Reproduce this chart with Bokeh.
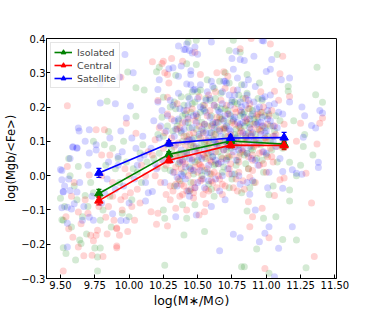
from bokeh.plotting import figure
from bokeh.models import (ColumnDataSource, Whisker, TeeHead, FixedTicker, Legend, LegendItem, Range1d)
from bokeh.embed import file_html
from bokeh.resources import INLINE

# ---------------- data ----------------
bin_x = [9.78, 10.29, 10.74, 11.13]
iso_y = [-0.052, 0.062, 0.101, 0.092]
iso_err = [0.012, 0.008, 0.008, 0.012]
cen_y = [-0.073, 0.045, 0.089, 0.088]
cen_err = [0.012, 0.008, 0.008, 0.012]
sat_y = [0.008, 0.094, 0.110, 0.111]
sat_err = [0.013, 0.008, 0.008, 0.015]

x_ticks = [9.5, 9.75, 10.0, 10.25, 10.5, 10.75, 11.0, 11.25, 11.5]
x_tick_labels = ["9.50", "9.75", "10.00", "10.25", "10.50", "10.75", "11.00", "11.25", "11.50"]
y_ticks = [-0.3, -0.2, -0.1, 0.0, 0.1, 0.2, 0.3, 0.4]
y_tick_labels = ["\u22120.3", "\u22120.2", "\u22120.1", "0.0", "0.1", "0.2", "0.3", "0.4"]

iso_pts = [
    (9.63,0.027),(9.50,-0.066),(9.68,-0.058),(9.52,-0.13),(9.79,-0.13),(9.64,-0.188),(9.65,-0.198),(9.54,-0.227),
    (9.61,-0.246),(9.77,-0.237),(9.79,-0.211),(9.77,-0.278),(9.75,-0.211),(9.51,-0.129),(9.52,-0.21),(9.74,0.10),
    (9.82,0.09),(9.88,0.08),(9.85,0.129),(9.84,0.217),(9.99,0.302),(10.05,0.256),(10.05,0.173),(10.08,0.066),
    (9.57,0.0),(9.60,-0.03),(9.70,-0.09),(9.86,-0.06),(9.93,-0.02),(9.98,0.04),(10.02,-0.07),(10.06,0.01),
    (10.10,0.09),(9.95,-0.11),(9.90,0.02),(9.66,-0.12),(9.72,-0.02),
    (9.53,-0.09),(9.58,-0.15),(9.62,-0.07),(9.69,-0.17),(9.74,-0.05),(9.81,-0.10),(9.87,-0.15),(9.92,0.05),
    (9.96,0.10),(10.03,0.02),(10.09,-0.02),(10.13,0.04),(10.00,-0.12),(9.83,0.03),(9.56,0.05),
    (10.43,0.39),(10.73,0.365),(10.81,0.36),(10.22,0.316),(10.42,0.326),(10.34,0.293),(10.49,0.324),(10.43,0.23),
    (10.25,0.229),(10.49,0.395),(10.76,0.395),(11.08,0.353),(10.86,0.295),(11.37,0.316),(11.16,0.26),(10.95,0.27),
    (11.16,0.246),(11.36,0.236),(11.41,0.214),(11.27,0.085),(11.34,0.06),(10.20,0.303),(10.11,0.25),
    (11.25,0.03),(11.17,0.039),(11.17,-0.042),(11.17,-0.074),(11.02,-0.056),(10.86,-0.103),(10.98,-0.124),
    (11.07,-0.12),(11.12,-0.186),(11.22,-0.188),(10.93,-0.214),(10.84,-0.266),(11.02,-0.285),(11.29,-0.269),
    (10.26,-0.124),(10.25,-0.10),(10.42,-0.124),(10.39,-0.085),(10.48,-0.085),(10.40,-0.173),(10.55,-0.163),
    (10.26,-0.261),(10.82,-0.266),(11.28,0.12),(11.20,0.16),(11.22,0.0),
    (10.18,0.05),(10.21,0.12),(10.24,0.17),(10.26,0.02),(10.28,0.09),(10.30,0.20),(10.32,0.13),(10.33,-0.03),
    (10.35,0.06),(10.36,0.16),(10.38,0.23),(10.39,0.10),(10.40,0.01),(10.41,0.18),(10.42,0.07),(10.44,0.14),
    (10.45,-0.02),(10.46,0.21),(10.47,0.11),(10.48,0.04),(10.50,0.17),(10.51,0.08),(10.52,0.25),(10.53,0.00),
    (10.54,0.13),(10.55,0.19),(10.56,0.05),(10.58,0.10),(10.59,0.22),(10.60,-0.04),(10.61,0.15),(10.62,0.03),
    (10.63,0.12),(10.64,0.20),(10.65,0.07),(10.66,0.17),(10.67,0.24),(10.68,0.01),(10.69,0.10),(10.70,0.14),
    (10.71,0.05),(10.72,0.19),(10.73,0.27),(10.74,0.08),(10.75,-0.01),(10.76,0.16),(10.77,0.12),(10.78,0.03),
    (10.79,0.21),(10.80,0.09),(10.81,0.14),(10.82,-0.05),(10.83,0.18),(10.84,0.06),(10.85,0.11),(10.86,0.24),
    (10.87,0.02),(10.88,0.15),(10.89,0.08),(10.90,0.19),(10.91,-0.02),(10.92,0.12),(10.93,0.05),(10.94,0.17),
    (10.96,0.09),(10.97,0.22),(10.98,0.01),(10.99,0.14),(11.00,0.06),(11.02,0.18),(11.03,0.10),(11.05,-0.03),
    (11.06,0.13),(11.08,0.04),(11.10,0.16),(11.12,0.08),(10.57,0.28),(10.45,0.09),(10.62,-0.06),(10.70,0.30),
    (10.36,0.035),(10.38,0.125),(10.41,0.055),(10.43,0.155),(10.44,0.025),(10.47,0.085),(10.49,0.135),(10.50,0.045),
    (10.52,0.185),(10.53,0.095),(10.55,0.015),(10.57,0.145),(10.58,0.065),(10.60,0.175),(10.61,0.105),(10.63,0.035),
    (10.64,0.135),(10.66,0.085),(10.67,0.195),(10.69,0.025),(10.70,0.115),(10.72,0.155),(10.73,0.055),(10.75,0.215),
    (10.76,0.095),(10.78,0.135),(10.79,0.045),(10.81,0.175),(10.82,0.105),(10.84,0.145),(10.85,0.035),(10.87,0.125),
    (10.88,0.195),(10.90,0.075),(10.91,0.165),(10.93,0.105),(10.95,0.135),(10.97,0.045),(10.99,0.175),(11.01,0.115),
    (10.46,0.245),(10.62,0.255),(10.80,0.235),(10.40,0.205),(10.56,0.225),(10.71,0.075),(10.86,0.065),(10.53,0.155),
    (10.68,0.165),(10.31,0.075),(10.28,0.145),(10.34,0.195),(10.22,0.065),(10.25,0.115),(11.04,0.075),(11.07,0.175),
    (10.94,0.225),(10.77,0.005),(10.59,0.005),(10.47,0.005),
    (10.33,0.215),(10.35,0.145),(10.37,0.065),(10.39,0.175),(10.42,0.115),(10.45,0.185),(10.48,0.215),(10.51,0.115),
    (10.54,0.205),(10.57,0.085),(10.60,0.125),(10.63,0.225),(10.65,0.155),(10.67,0.055),(10.70,0.195),(10.72,0.095),
    (10.74,0.175),(10.77,0.215),(10.79,0.115),(10.81,0.065),(10.83,0.225),(10.86,0.155),(10.89,0.175),(10.92,0.155),
    (10.96,0.185),(10.98,0.105),(11.03,0.145),(10.44,-0.045),(10.58,-0.025),(10.73,-0.035),(10.88,-0.035),
    (10.30,0.015),(10.50,0.245),(10.66,0.275),(10.82,0.265),(10.37,-0.015),(10.55,0.095),(10.69,0.135),
    (10.84,0.185),(10.61,0.055),
]

cen_pts = [
    (9.55,0.204),(9.55,0.027),(9.71,0.002),(9.63,-0.106),(9.56,-0.155),(9.83,-0.121),(9.89,-0.13),(9.77,-0.159),
    (9.76,-0.174),(9.72,-0.174),(9.91,-0.155),(9.93,-0.174),(9.63,-0.208),(9.67,-0.234),(9.73,-0.232),(9.52,-0.278),
    (9.91,-0.205),(9.81,-0.236),(9.91,-0.21),(9.99,-0.163),(9.91,-0.153),(9.94,0.287),(9.98,0.153),(9.76,0.134),
    (9.82,0.134),(10.05,0.124),(9.80,0.06),(9.60,-0.02),(9.68,-0.07),(9.85,-0.09),(9.97,-0.06),(10.02,-0.09),
    (10.06,-0.04),(10.00,0.0),(10.09,0.03),(9.88,-0.02),(9.94,-0.07),(9.58,-0.06),(9.80,0.0),(9.97,0.02),
    (9.54,-0.12),(9.59,-0.18),(9.65,-0.14),(9.70,-0.11),(9.78,-0.09),(9.84,-0.17),(9.88,-0.06),(9.95,-0.10),
    (10.01,-0.05),(10.04,-0.13),(10.08,-0.08),(10.12,0.00),(10.14,0.07),(9.86,0.06),(9.74,-0.19),
    (10.17,0.332),(10.25,0.334),(10.31,0.342),(10.26,0.30),(10.39,0.334),(10.52,0.295),(10.29,0.27),(10.21,0.219),
    (10.28,0.229),(10.64,0.30),(10.69,0.303),(10.72,0.29),(11.03,0.384),(11.12,0.348),(11.10,0.297),(11.06,0.246),
    (11.17,0.231),(10.89,0.40),(10.24,0.327),(10.28,0.295),(10.81,0.37),(10.48,0.36),
    (11.41,0.168),(11.39,0.153),(11.25,0.153),(11.37,0.092),(11.29,0.007),(11.13,-0.007),(11.10,-0.012),
    (11.06,-0.058),(10.87,-0.076),(10.97,-0.095),(10.90,-0.12),(10.88,-0.149),(11.33,-0.08),(11.02,-0.181),
    (11.35,-0.236),(10.99,-0.271),(11.22,0.10),
    (10.16,-0.105),(10.21,-0.11),(10.20,-0.142),(10.28,-0.147),(10.34,-0.095),(10.42,-0.10),(10.51,-0.115),
    (10.55,-0.105),(10.56,-0.081),(10.37,-0.06),(10.30,-0.07),(10.47,-0.05),
    (10.17,0.06),(10.19,0.00),(10.22,0.14),(10.23,-0.02),(10.25,0.08),(10.27,0.03),(10.28,0.18),(10.30,-0.03),
    (10.31,0.11),(10.33,0.01),(10.34,0.06),(10.35,0.21),(10.36,-0.01),(10.37,0.14),(10.39,0.04),(10.40,-0.03),
    (10.41,0.09),(10.42,0.19),(10.43,0.00),(10.44,0.12),(10.46,0.05),(10.47,-0.02),(10.48,0.16),(10.49,0.08),
    (10.50,0.01),(10.51,0.23),(10.52,0.11),(10.53,-0.01),(10.54,0.06),(10.55,0.15),(10.57,0.02),(10.58,0.09),
    (10.59,0.19),(10.60,0.04),(10.61,-0.02),(10.62,0.12),(10.63,0.07),(10.64,0.17),(10.65,0.00),(10.66,0.10),
    (10.67,0.22),(10.68,0.05),(10.69,0.14),(10.70,-0.03),(10.71,0.09),(10.72,0.18),(10.73,0.02),(10.74,0.12),
    (10.75,0.06),(10.76,0.25),(10.77,0.15),(10.78,-0.01),(10.79,0.10),(10.80,0.04),(10.81,0.19),(10.82,0.13),
    (10.83,0.07),(10.84,-0.04),(10.85,0.16),(10.86,0.10),(10.87,0.02),(10.88,0.21),(10.89,0.12),(10.90,0.06),
    (10.91,0.15),(10.92,-0.02),(10.93,0.09),(10.94,0.18),(10.95,0.03),(10.96,0.13),(10.97,0.07),(10.98,0.20),
    (10.99,0.11),(11.00,0.01),(11.01,0.15),(11.03,0.08),(11.04,0.19),(11.05,0.04),(11.07,0.12),(11.09,0.22),
    (11.11,0.09),(11.13,0.15),(10.45,-0.04),(10.56,-0.04),(10.38,0.02),(10.62,0.01),(10.29,0.05),(10.52,0.03),
    (10.66,-0.01),(10.80,0.01),
    (10.32,-0.045),(10.34,0.025),(10.36,0.095),(10.38,-0.025),(10.39,0.155),(10.41,0.035),(10.42,-0.045),
    (10.44,0.075),(10.45,0.015),(10.47,0.125),(10.48,-0.035),(10.50,0.065),(10.51,0.145),(10.53,0.025),
    (10.54,-0.055),(10.56,0.105),(10.57,0.175),(10.59,0.045),(10.60,-0.015),(10.62,0.085),(10.63,0.155),
    (10.65,0.035),(10.66,0.135),(10.68,-0.025),(10.69,0.075),(10.71,0.205),(10.72,0.115),(10.74,0.035),
    (10.75,0.155),(10.77,0.085),(10.78,0.185),(10.80,0.055),(10.81,0.125),(10.83,-0.015),(10.84,0.095),
    (10.86,0.165),(10.87,0.055),(10.89,0.135),(10.90,0.015),(10.92,0.105),(10.93,0.175),(10.95,0.065),
    (10.97,0.145),(10.98,0.035),(11.00,0.105),(11.02,0.175),(11.04,0.055),(11.06,0.145),(11.08,0.085),
    (10.26,0.125),(10.24,0.045),(10.27,-0.055),(10.29,0.095),(10.21,0.025),(10.19,0.105),(10.46,0.195),
    (10.58,0.235),(10.70,0.255),(10.85,0.225),(10.96,0.245),(10.43,0.105),(10.55,0.055),(10.64,-0.035),
    (10.76,-0.035),(10.88,-0.005),(10.52,-0.015),(10.40,0.065),
    (10.31,0.165),(10.33,0.085),(10.35,0.135),(10.37,0.045),(10.40,0.115),(10.43,0.165),(10.46,0.095),
    (10.49,0.175),(10.51,0.035),(10.54,0.125),(10.57,0.065),(10.60,0.145),(10.62,0.205),(10.65,0.095),
    (10.67,0.165),(10.70,0.135),(10.72,0.055),(10.75,0.105),(10.77,0.195),(10.80,0.145),(10.82,0.075),
    (10.85,0.115),(10.87,0.195),(10.91,0.085),(10.94,0.135),(10.97,0.185),(11.01,0.055),(11.05,0.115),
    (10.39,-0.055),(10.47,-0.065),(10.58,-0.045),(10.68,-0.055),(10.79,-0.045),(10.34,-0.025),(10.63,0.245),
    (10.48,0.025),(10.60,0.005),(10.73,0.005),(10.90,0.045),(10.55,0.205),
]

sat_pts = [
    (9.636,0.13),(9.59,0.084),(9.62,0.081),(9.50,0.018),(9.51,-0.012),(9.52,-0.046),(9.51,-0.094),(9.55,-0.139),
    (9.51,0.015),(9.56,-0.01),(9.52,-0.048),(9.57,-0.043),(9.62,-0.048),(9.60,-0.082),(9.55,-0.092),(9.58,-0.097),
    (9.71,-0.121),(9.74,-0.13),(9.88,-0.111),(9.55,-0.208),(9.94,-0.131),(9.98,-0.131),(9.97,0.353),(10.03,0.30),
    (9.79,0.268),(9.90,0.21),(9.98,0.168),(9.63,0.139),(9.71,0.134),(10.10,0.115),(10.02,0.11),(9.76,0.09),
    (9.59,0.083),(9.62,0.08),(9.76,0.075),(10.05,0.08),(9.92,0.056),(9.71,0.066),(9.93,0.288),(10.01,0.203),
    (9.79,0.212),(9.85,0.04),(9.92,0.03),(9.96,-0.03),(10.04,-0.01),(10.08,0.05),(9.82,-0.05),(9.66,-0.13),
    (9.70,0.03),(10.12,-0.02),(9.94,0.13),
    (9.53,-0.03),(9.57,0.05),(9.64,-0.02),(9.67,-0.09),(9.73,-0.06),(9.80,-0.08),(9.86,0.11),(9.90,-0.04),
    (9.95,0.07),(10.00,-0.08),(10.06,0.03),(10.11,0.06),(10.14,-0.05),(9.84,-0.01),(9.68,0.10),
    (10.42,0.384),(10.41,0.368),(10.44,0.365),(10.48,0.375),(10.46,0.358),(10.78,0.363),(10.29,0.312),(10.38,0.32),
    (10.45,0.306),(10.36,0.29),(10.45,0.295),(10.22,0.28),(10.42,0.267),(10.48,0.252),(10.76,0.31),(10.75,0.342),
    (10.81,0.339),(10.70,0.275),(10.79,0.285),(10.97,0.394),(10.91,0.348),(11.04,0.339),(10.84,0.336),(11.00,0.304),
    (11.03,0.31),(10.87,0.28),(11.11,0.28),(11.17,0.285),(11.17,0.215),(10.36,0.378),(10.40,0.368),(10.50,0.354),
    (10.21,0.251),(10.32,0.315),(10.60,0.39),(10.98,0.393),
    (11.26,0.2),(11.39,0.19),(11.41,0.183),(11.28,0.175),(11.36,0.139),(11.33,0.146),(11.27,0.112),(11.38,0.039),
    (11.38,0.024),(11.26,0.004),(11.22,0.007),(11.19,0.017),(11.12,0.012),(11.12,-0.037),(11.01,-0.035),
    (10.88,-0.054),(10.92,-0.10),(11.02,-0.149),(11.19,-0.149),(10.99,-0.168),(10.95,-0.193),(11.09,-0.212),
    (11.06,-0.295),(10.76,-0.171),(10.81,-0.181),(10.66,-0.219),
    (10.12,-0.074),(10.17,-0.046),(10.34,-0.12),(10.49,-0.115),(10.60,-0.09),(10.44,-0.06),(10.70,-0.07),
    (10.16,0.08),(10.18,0.16),(10.20,0.02),(10.22,0.11),(10.24,0.19),(10.26,-0.02),(10.27,0.13),(10.29,0.06),
    (10.30,0.22),(10.32,0.01),(10.33,0.16),(10.34,0.09),(10.36,0.24),(10.37,0.04),(10.38,0.13),(10.40,0.19),
    (10.41,-0.01),(10.42,0.10),(10.43,0.17),(10.45,0.02),(10.46,0.14),(10.47,0.25),(10.48,0.07),(10.49,0.18),
    (10.50,-0.02),(10.51,0.12),(10.52,0.20),(10.53,0.05),(10.55,0.15),(10.56,0.22),(10.57,0.01),(10.58,0.11),
    (10.59,0.17),(10.60,0.07),(10.61,0.26),(10.62,0.14),(10.63,-0.01),(10.64,0.09),(10.65,0.19),(10.66,0.13),
    (10.67,0.04),(10.68,0.21),(10.69,0.16),(10.70,0.10),(10.71,0.27),(10.72,0.02),(10.73,0.18),(10.74,0.13),
    (10.75,0.22),(10.76,0.07),(10.77,0.17),(10.78,0.11),(10.79,0.25),(10.80,0.00),(10.81,0.15),(10.82,0.20),
    (10.83,0.08),(10.84,0.17),(10.85,0.12),(10.86,-0.02),(10.87,0.22),(10.88,0.14),(10.89,0.05),(10.90,0.18),
    (10.91,0.10),(10.92,0.26),(10.93,0.15),(10.94,0.03),(10.95,0.20),(10.96,0.12),(10.97,0.17),(10.98,0.07),
    (10.99,0.23),(11.00,0.13),(11.01,0.19),(11.02,0.01),(11.03,0.16),(11.05,0.10),(11.06,0.21),(11.08,0.14),
    (11.10,0.05),(11.12,0.18),(10.39,0.00),(10.54,-0.01),(10.44,0.05),(10.58,0.03),(10.35,-0.03),(10.68,0.00),
    (10.31,0.045),(10.33,0.115),(10.35,-0.005),(10.36,0.165),(10.38,0.075),(10.40,0.135),(10.41,0.025),
    (10.43,0.205),(10.44,0.105),(10.46,0.045),(10.47,0.175),(10.49,0.085),(10.50,0.225),(10.52,0.015),
    (10.53,0.135),(10.55,0.075),(10.56,0.185),(10.58,-0.015),(10.59,0.125),(10.61,0.055),(10.62,0.205),
    (10.64,0.155),(10.65,0.035),(10.67,0.115),(10.68,0.245),(10.70,0.175),(10.71,0.045),(10.73,0.135),
    (10.74,0.205),(10.76,0.105),(10.77,0.235),(10.79,0.155),(10.80,0.075),(10.82,0.185),(10.83,0.125),
    (10.85,0.205),(10.86,0.065),(10.88,0.165),(10.89,0.115),(10.91,0.215),(10.92,0.045),(10.94,0.155),
    (10.95,0.095),(10.97,0.225),(10.98,0.145),(11.00,0.065),(11.01,0.165),(11.03,0.235),(11.05,0.145),
    (11.07,0.085),(11.09,0.185),(10.23,0.145),(10.25,0.045),(10.28,0.175),(10.21,0.215),(10.19,0.035),
    (10.45,0.265),(10.60,0.275),(10.84,0.265),(10.48,-0.035),(10.63,0.095),(10.75,0.005),(10.90,-0.015),
    (10.42,0.065),(10.57,0.245),(10.72,0.085),(10.87,0.105),
    (10.32,0.205),(10.34,0.135),(10.37,0.195),(10.39,0.045),(10.41,0.155),(10.44,0.225),(10.46,0.105),
    (10.49,0.155),(10.51,0.055),(10.54,0.195),(10.56,0.125),(10.59,0.225),(10.61,0.155),(10.63,0.045),
    (10.66,0.185),(10.69,0.075),(10.71,0.145),(10.73,0.235),(10.76,0.165),(10.78,0.045),(10.81,0.215),
    (10.83,0.155),(10.86,0.235),(10.88,0.085),(10.90,0.125),(10.93,0.195),(10.96,0.155),(10.99,0.125),
    (11.02,0.205),(11.06,0.115),(10.43,-0.045),(10.55,-0.035),(10.66,-0.045),(10.81,-0.025),(10.38,0.005),
    (10.52,0.265),(10.69,0.275),(10.47,0.015),(10.62,0.105),(10.78,0.085),
]

FONT = "DejaVu Sans"

p = figure(width=374, height=312, output_backend="svg", toolbar_location=None,
           x_range=Range1d(9.398, 11.512), y_range=Range1d(-0.3, 0.4),
           min_border_left=46, min_border_right=38, min_border_top=38, min_border_bottom=34)
p.background_fill_color = "white"
p.border_fill_color = "white"
p.xgrid.visible = False
p.ygrid.visible = False
p.outline_line_color = "black"
p.outline_line_width = 1
p.outline_line_alpha = 1

# scatter clouds
series = [("green", iso_pts), ("red", cen_pts), ("blue", sat_pts)]
for col, pts in series:
    p.scatter([a for a, b in pts], [b for a, b in pts], size=7, fill_color=col,
              fill_alpha=0.17, line_color=None)

items = []
for name, col, ys, errs in [("Isolated", "green", iso_y, iso_err),
                            ("Central", "red", cen_y, cen_err),
                            ("Satellite", "blue", sat_y, sat_err)]:
    src = ColumnDataSource(dict(x=bin_x, y=ys,
                                lo=[v - e for v, e in zip(ys, errs)],
                                hi=[v + e for v, e in zip(ys, errs)]))
    w = Whisker(source=src, base="x", upper="hi", lower="lo", dimension="height",
                line_color=col, line_width=1.3,
                upper_head=TeeHead(size=5, line_color=col, line_width=1.3),
                lower_head=TeeHead(size=5, line_color=col, line_width=1.3))
    p.add_layout(w)
    ln = p.line("x", "y", source=src, line_color=col, line_width=1.6)
    mk = p.scatter("x", "y", source=src, marker="triangle", size=8.5,
                   fill_color=col, line_color=col)
    items.append(LegendItem(label=name, renderers=[ln, mk]))

legend = Legend(items=items, location="top_left", margin=4, padding=3, spacing=1,
                glyph_width=18, glyph_height=12, label_height=12, label_standoff=5,
                label_text_font=FONT, label_text_font_size="9.5px",
                border_line_color="#cccccc", border_line_width=1,
                background_fill_color="white", background_fill_alpha=0.8)
p.add_layout(legend, "center")

for ax in (p.xaxis[0], p.yaxis[0]):
    ax.major_tick_in = 4
    ax.major_tick_out = 0
    ax.minor_tick_in = 0
    ax.minor_tick_out = 0
    ax.major_label_text_font = FONT
    ax.major_label_text_font_size = "10px"
    ax.major_label_text_color = "black"
    ax.axis_label_text_font = FONT
    ax.axis_label_text_font_style = "normal"
    ax.axis_label_text_color = "black"
    ax.axis_line_color = "black"
    ax.major_tick_line_color = "black"
    ax.major_label_standoff = 1
    ax.axis_label_standoff = 0

p.xaxis[0].major_label_standoff = 2
p.xaxis[0].axis_label_standoff = 1
p.xaxis[0].ticker = FixedTicker(ticks=x_ticks)
p.xaxis[0].major_label_overrides = dict(zip(x_ticks, x_tick_labels))
p.yaxis[0].ticker = FixedTicker(ticks=y_ticks)
p.yaxis[0].major_label_overrides = dict(zip(y_ticks, y_tick_labels))
p.xaxis[0].axis_label = "log(M\u2217/M\u2299)"
p.yaxis[0].axis_label = "log(Mgb/<Fe>)"
p.xaxis[0].axis_label_text_font_size = "12.5px"
p.yaxis[0].axis_label_text_font_size = "11.5px"

open("out.html", "w").write(file_html(p, INLINE))
